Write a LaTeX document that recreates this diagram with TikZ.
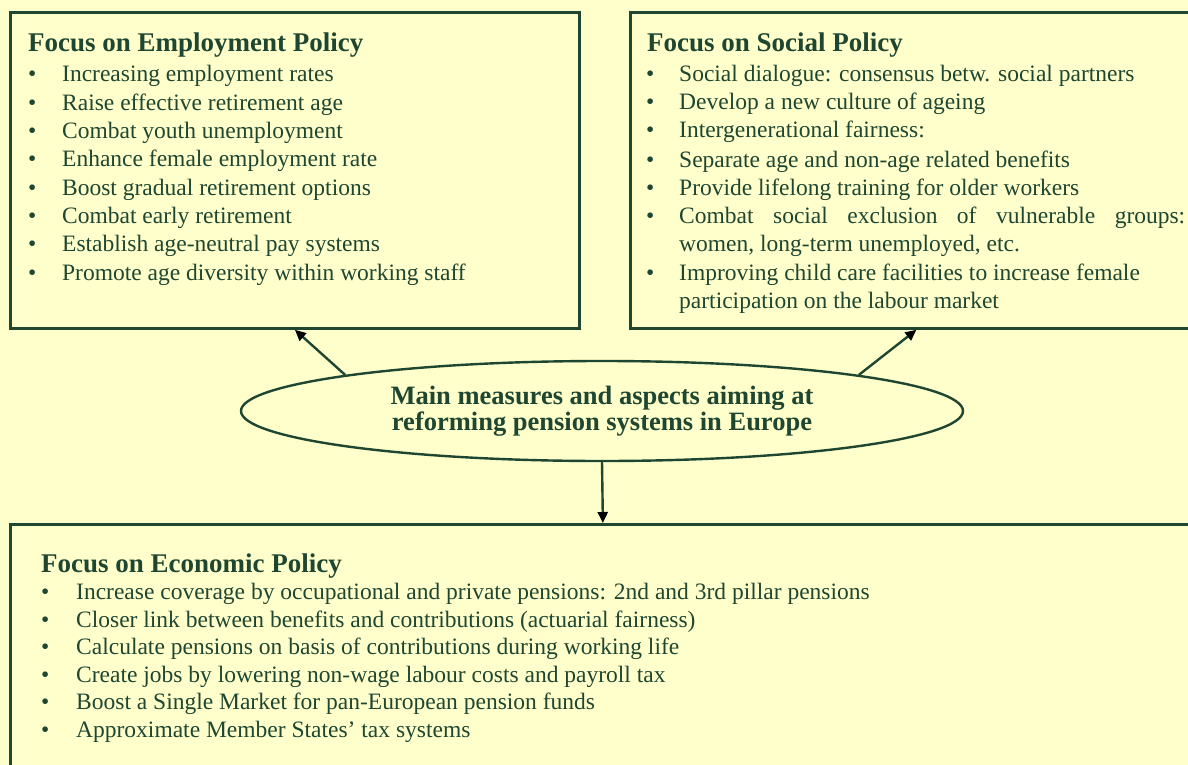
\documentclass[tikz,border=0pt]{standalone}
\usepackage{fontspec}
\setmainfont{Liberation Serif}
\usetikzlibrary{shapes.geometric,arrows.meta}
\definecolor{bg}{HTML}{FFFFCC}
\definecolor{dg}{HTML}{1E4630}
\tikzset{
 txt/.style={anchor=base west, inner sep=0pt, text=dg, font=\fontsize{23.5}{28}\selectfont},
 ttl/.style={anchor=base west, inner sep=0pt, text=dg, font=\fontsize{27}{30}\selectfont\bfseries},
 box/.style={draw=dg, line width=2.8pt, anchor=north west, inner sep=0pt},
 arr/.style={draw=dg, line width=2.4pt, -{Triangle[length=11pt,width=10pt,color=black]}},
}
\newcommand{\bul}[1]{\makebox[#1][l]{•}}
\begin{document}
\begin{tikzpicture}[x=1pt,y=-1pt]
\useasboundingbox (0,0) rectangle (1188,765);
\fill[bg] (0,0) rectangle (1188,765);
\clip (0,0) rectangle (1188,765);
% boxes
\node[box, minimum width=569pt, minimum height=316pt] (emp) at (9,11) {};
\node[box, minimum width=572pt, minimum height=316pt] (soc) at (629,11) {};
\node[box, minimum width=1185pt, minimum height=260pt] (eco) at (9,523) {};
% ellipse
\node[draw=dg, line width=2.4pt, ellipse, minimum width=722pt, minimum height=100pt, inner sep=0pt] (main) at (602,411) {};
\node[align=center, text=dg, inner sep=0pt, font=\fontsize{26.5}{26}\selectfont\bfseries] (mtxt) at (602,411) {Main measures and aspects aiming at\\reforming pension systems in Europe};
% arrows
\draw[arr] (main.172) -- (emp.south);
\draw[arr] (main.8) -- (soc.south);
\draw[arr] (main.south) -- (eco.north);
% employment
\node[ttl] (et) at (28,52) {Focus on Employment Policy};
\foreach \t [count=\i from 0] in {Increasing employment rates, Raise effective retirement age, Combat youth unemployment, Enhance female employment rate, Boost gradual retirement options, Combat early retirement, Establish age-neutral pay systems, Promote age diversity within working staff}
  \node[txt] (e\i) at (28, 82+28.3*\i) {\bul{34pt}\t};
% social
\node[ttl] (st) at (647,52) {Focus on Social Policy};
\node[txt] (s1) at (646,82) {\bul{33pt}Social dialogue: consensus betw. social partners};
\node[txt] (s2) at (646,110) {\bul{33pt}Develop a new culture of ageing};
\node[txt] (s3) at (646,138) {\bul{33pt}Intergenerational fairness:};
\node[txt] (s4) at (646,167) {\bul{33pt}Separate age and non-age related benefits};
\node[txt] (s5) at (646,195) {\bul{33pt}Provide lifelong training for older workers};
\node[txt] (s6) at (646,223) {\bul{33pt}\makebox[506pt][s]{Combat social exclusion of vulnerable groups:}};
\node[txt] (s6b) at (679,251) {women, long-term unemployed, etc.};
\node[txt] (s7) at (646,280) {\bul{33pt}Improving child care facilities to increase female};
\node[txt] (s7b) at (679,308) {participation on the labour market};
% economic
\node[ttl] (ct) at (41,572) {Focus on Economic Policy};
\foreach \t [count=\i from 0] in {Increase coverage by occupational and private pensions: 2nd and 3rd pillar pensions, Closer link between benefits and contributions (actuarial fairness), Calculate pensions on basis of contributions during working life, Create jobs by lowering non-wage labour costs and payroll tax, Boost a Single Market for pan-European pension funds, Approximate Member States’ tax systems}
  \node[txt] (c\i) at (41, 599.5+27.5*\i) {\bul{35pt}\t};
\end{tikzpicture}
\end{document}
